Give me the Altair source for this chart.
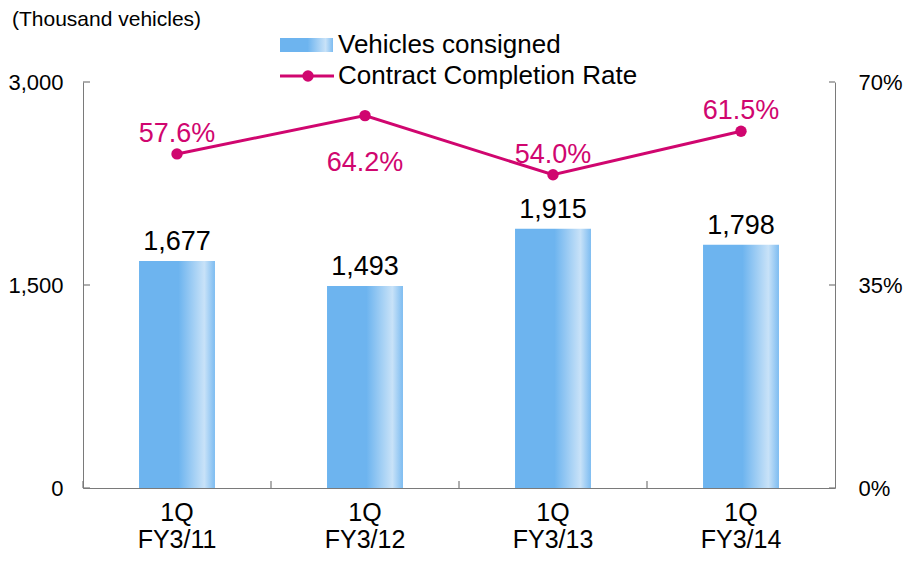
import altair as alt
import pandas as pd

# ---------------- data ----------------
QUARTER = "1Q"
FISCAL_YEARS = ["FY3/11", "FY3/12", "FY3/13", "FY3/14"]
VEHICLES = [1677, 1493, 1915, 1798]          # thousand vehicles
RATES = [57.6, 64.2, 54.0, 61.5]             # contract completion rate, %
LEFT_TICKS = [0, 1500, 3000]
RIGHT_TICKS = [0, 35, 70]
SERIES = ["Vehicles consigned", "Contract Completion Rate"]
UNIT = "(Thousand vehicles)"

FONT = "Liberation Sans"
AXIS_C = "#7a7a7a"
MAG = "#d0066f"

cats = [f"{QUARTER}|{fy}" for fy in FISCAL_YEARS]
df = pd.DataFrame({"cat": cats, "vehicles": VEHICLES, "rate": RATES})
df["rate_label"] = [f"{r:.1f}%" for r in RATES]

bar_grad = alt.Gradient(
    gradient="linear",
    stops=[
        alt.GradientStop(color="#6db4ef", offset=0),
        alt.GradientStop(color="#6db4ef", offset=0.52),
        alt.GradientStop(color="#c8e2f8", offset=0.86),
        alt.GradientStop(color="#7dbcf1", offset=1),
    ],
    x1=0, x2=1, y1=0, y2=0,
)

x_axis = alt.Axis(
    title=None, labelExpr="split(datum.label, '|')", labelFontSize=25,
    labelLineHeight=27, labelPadding=12, labelColor="black", ticks=False,
    domainColor=AXIS_C, labelFont=FONT, labelAngle=0,
)
x_scale = alt.Scale(paddingInner=0, paddingOuter=0)
x_enc = alt.X("cat:N", sort=cats, scale=x_scale, axis=x_axis)

y_left = alt.Y(
    "vehicles:Q",
    scale=alt.Scale(domain=[0, 3000], nice=False),
    axis=alt.Axis(title=None, values=LEFT_TICKS, format=",d", ticks=False, grid=False,
                  labelFontSize=22, labelPadding=20, domainColor=AXIS_C,
                  labelColor="black", labelFont=FONT, labelFlush=False),
)
y_right = alt.Y(
    "rate:Q",
    scale=alt.Scale(domain=[0, 70], nice=False),
    axis=alt.Axis(title=None, orient="right", values=RIGHT_TICKS,
                  labelExpr="datum.value + '%'", ticks=False, grid=False,
                  labelFontSize=22, labelPadding=23, domainColor=AXIS_C,
                  labelColor="black", labelFont=FONT, labelFlush=False),
)

bars = alt.Chart(df).mark_bar(color=bar_grad, width=alt.RelativeBandSize(0.404)).encode(
    x=x_enc, y=y_left)
bar_labels = alt.Chart(df).mark_text(
    baseline="alphabetic", dy=-11, fontSize=27, font=FONT, color="black"
).encode(x=x_enc, y=y_left, text=alt.Text("vehicles:Q", format=",d"))
left_ticks = alt.Chart(pd.DataFrame({"vehicles": LEFT_TICKS})).mark_rule(
    color=AXIS_C, strokeWidth=1.2).encode(y=y_left, x=alt.value(0), x2=alt.value(7))
x_ticks = alt.Chart(df).mark_rule(color=AXIS_C, strokeWidth=1.2).encode(
    x=alt.X("cat:N", sort=cats, bandPosition=0, scale=x_scale, axis=x_axis),
    y=alt.value(399), y2=alt.value(406))

left_layer = alt.layer(bars, bar_labels, left_ticks, x_ticks)

line = alt.Chart(df).mark_line(
    color=MAG, strokeWidth=3,
    point=alt.OverlayMarkDef(filled=True, size=130, color=MAG, opacity=1),
).encode(x=x_enc, y=y_right)
labels_above = alt.Chart(df).transform_filter(alt.datum.cat != cats[1]).mark_text(
    baseline="alphabetic", dy=-12, fontSize=27, font=FONT, color=MAG
).encode(x=x_enc, y=y_right, text="rate_label:N")
labels_below = alt.Chart(df).transform_filter(alt.datum.cat == cats[1]).mark_text(
    baseline="top", dy=34, fontSize=27, font=FONT, color=MAG
).encode(x=x_enc, y=y_right, text="rate_label:N")
right_ticks = alt.Chart(pd.DataFrame({"rate": RIGHT_TICKS})).mark_rule(
    color=AXIS_C, strokeWidth=1.2).encode(y=y_right, x=alt.value(746), x2=alt.value(752))

right_layer = alt.layer(line, labels_above, labels_below, right_ticks)

# ---------------- legend ----------------
leg_df = pd.DataFrame({"name": SERIES})
leg_rect = alt.Chart(leg_df).transform_filter(alt.datum.name == SERIES[0]).mark_rect(
    color=bar_grad).encode(x=alt.value(197), x2=alt.value(250),
                           y=alt.value(-44), y2=alt.value(-30))
leg_text1 = alt.Chart(leg_df).transform_filter(alt.datum.name == SERIES[0]).mark_text(
    align="left", baseline="middle", fontSize=26, font=FONT, color="black"
).encode(text="name:N", x=alt.value(255), y=alt.value(-37))
leg_line = alt.Chart(leg_df).transform_filter(alt.datum.name == SERIES[1]).mark_rule(
    color=MAG, strokeWidth=3).encode(x=alt.value(197), x2=alt.value(251), y=alt.value(-6))
leg_dot = alt.Chart(leg_df).transform_filter(alt.datum.name == SERIES[1]).mark_point(
    filled=True, size=130, color=MAG, opacity=1).encode(x=alt.value(225), y=alt.value(-6))
leg_text2 = alt.Chart(leg_df).transform_filter(alt.datum.name == SERIES[1]).mark_text(
    align="left", baseline="middle", fontSize=26, font=FONT, color="black"
).encode(text="name:N", x=alt.value(255), y=alt.value(-6))

unit_title = alt.Chart(pd.DataFrame({"t": [UNIT]})).mark_text(
    align="left", baseline="middle", fontSize=21, font=FONT, color="black"
).encode(text="t:N", x=alt.value(-71), y=alt.value(-62))

chart = alt.layer(
    left_layer, right_layer, leg_rect, leg_text1, leg_line, leg_dot, leg_text2, unit_title
).resolve_scale(y="independent").properties(
    width=752, height=406,
    autosize=alt.AutoSizeParams(type="none"),
    padding={"left": 75, "top": 74, "right": 71, "bottom": 66},
    background="white",
).configure_view(stroke=None).configure_axisY(
    labelFontSize=22, labelFont=FONT, labelColor="black"
)

chart.save("out.html", embed_options={"renderer": "svg", "actions": False})
